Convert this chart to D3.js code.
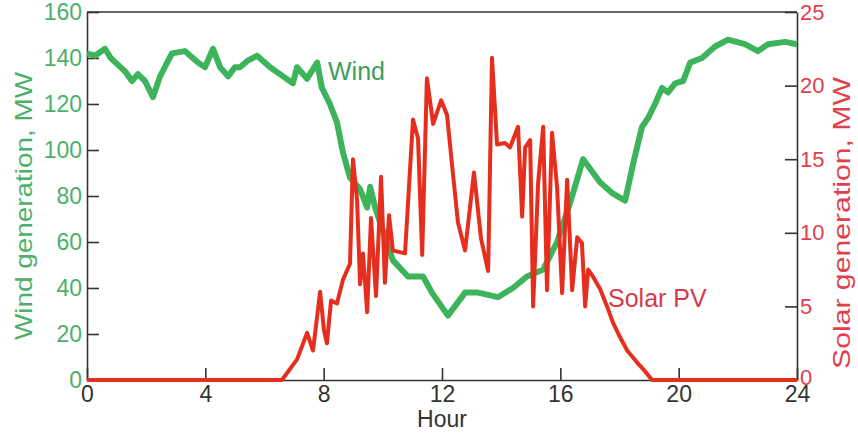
<!DOCTYPE html>
<html>
<head>
<meta charset="utf-8">
<script src="https://cdn.jsdelivr.net/npm/d3@7"></script>
<style>
  body { margin: 0; background: #fff; }
  svg { display: block; font-family: 'Liberation Sans', Arial, sans-serif; }
</style>
</head>
<body>
<svg id="chart" width="858" height="439"></svg>
<script>
// wind generation (MW)
var windHour = [0, 0.27, 0.61, 0.8, 1.05, 1.3, 1.52, 1.72, 1.96, 2.23, 2.47, 2.87, 3.31, 3.75, 3.99, 4.26, 4.5, 4.77, 5.0, 5.17, 5.45, 5.75, 6.19, 6.63, 6.96, 7.1, 7.44, 7.78, 7.94, 8.21, 8.45, 8.65, 8.89, 9.23, 9.47, 9.57, 9.74, 10.34, 10.85, 11.36, 11.66, 12.2, 12.78, 13.22, 13.89, 14.4, 14.87, 15.42, 15.89, 16.33, 16.77, 17.34, 17.78, 18.19, 18.46, 18.76, 18.97, 19.2, 19.44, 19.64, 19.88, 20.15, 20.39, 20.79, 21.23, 21.67, 22.24, 22.68, 23.02, 23.6, 24];
var windMW = [142, 141, 144, 140, 137, 134, 130, 133, 130, 123, 132, 142, 143, 138, 136, 144, 136, 132, 136, 136, 139, 141, 136, 132, 129, 136, 131, 138, 127, 120, 112, 99, 88, 83, 75, 84, 75, 52, 45, 45, 38, 28, 38, 38, 36, 40, 45, 48, 60, 77, 96, 86, 81, 78, 94, 110, 114, 120, 127, 125, 129, 130, 138, 140, 145, 148, 146, 143, 146, 147, 146];

// solar PV generation (MW)
var solarHour = [0, 6.59, 7.1, 7.44, 7.64, 7.88, 8.01, 8.11, 8.25, 8.45, 8.65, 8.89, 8.99, 9.13, 9.23, 9.33, 9.47, 9.6, 9.77, 9.94, 10.07, 10.21, 10.34, 10.75, 11.02, 11.19, 11.33, 11.49, 11.7, 11.97, 12.17, 12.34, 12.54, 12.78, 13.08, 13.32, 13.56, 13.69, 13.86, 14.13, 14.3, 14.57, 14.71, 14.81, 14.98, 15.08, 15.25, 15.42, 15.55, 15.72, 15.89, 16.06, 16.23, 16.4, 16.57, 16.73, 16.84, 16.94, 17.11, 17.34, 17.58, 17.78, 18.02, 18.26, 18.59, 18.86, 19.1, 24];
var solarMW = [0, 0, 1.4, 3.2, 2.0, 6.0, 3.4, 2.5, 5.4, 5.2, 6.8, 7.9, 15.0, 12.2, 6.5, 8.6, 4.6, 11.0, 5.7, 13.8, 6.6, 11.2, 8.8, 8.6, 17.7, 16.4, 8.5, 20.5, 17.4, 19.0, 18.0, 14.6, 10.7, 8.8, 14.1, 9.6, 7.4, 21.9, 16.0, 16.1, 15.8, 17.2, 11.1, 15.8, 16.3, 5.0, 13.4, 17.2, 6.1, 16.8, 13.1, 5.9, 13.6, 6.1, 9.7, 9.3, 5.0, 7.5, 7.0, 6.2, 5.0, 3.9, 2.9, 2.0, 1.2, 0.6, 0, 0];

var hourTicks = [0, 4, 8, 12, 16, 20, 24];
var windTicks = [0, 20, 40, 60, 80, 100, 120, 140, 160];
var solarTicks = [0, 5, 10, 15, 20, 25];

var green = '#3db35b', red = '#e62e1f';
var plotLeft = 87, plotRight = 797, plotTop = 12, plotBottom = 380;

var svg = d3.select('#chart');

var x = d3.scaleLinear().domain([0, 24]).range([plotLeft, plotRight]);
var yWind = d3.scaleLinear().domain([0, 160]).range([plotBottom, plotTop]);
var ySolar = d3.scaleLinear().domain([0, 25]).range([plotBottom, plotTop]);

function styleAxis(g, color, size) {
  g.selectAll('path, line').attr('stroke', '#333').attr('stroke-width', 1.6);
  g.selectAll('text').attr('fill', color).style('font-size', size + 'px');
}

// frame top
svg.append('line')
  .attr('x1', plotLeft).attr('x2', plotRight).attr('y1', plotTop).attr('y2', plotTop)
  .attr('stroke', '#333').attr('stroke-width', 1.6);

var xAxis = svg.append('g')
  .attr('transform', 'translate(0,' + plotBottom + ')')
  .call(d3.axisBottom(x).tickValues(hourTicks).tickSize(-12).tickSizeOuter(0).tickPadding(6));
styleAxis(xAxis, '#333', 23);

var lAxis = svg.append('g')
  .attr('transform', 'translate(' + plotLeft + ',0)')
  .call(d3.axisLeft(yWind).tickValues(windTicks).tickSize(-12).tickSizeOuter(0).tickPadding(5));
styleAxis(lAxis, '#4caf6a', 23);

var rAxis = svg.append('g')
  .attr('transform', 'translate(' + plotRight + ',0)')
  .call(d3.axisRight(ySolar).tickValues(solarTicks).tickSize(-12).tickSizeOuter(0).tickPadding(3));
styleAxis(rAxis, '#e0404a', 22);
// lift the right "0" a touch so it clears the "24" below it
rAxis.selectAll('.tick text').filter(function (d) { return d === 0 }).attr('dy', '0.2em');

// lines
var windLine = d3.line()
  .x(function (d, i) { return x(windHour[i]) })
  .y(function (d) { return yWind(d) });

var solarLine = d3.line()
  .x(function (d, i) { return x(solarHour[i]) })
  .y(function (d) { return ySolar(d) });

svg.append('path')
  .attr('d', windLine(windMW))
  .attr('fill', 'none').attr('stroke', green)
  .attr('stroke-width', 6).attr('stroke-linejoin', 'round');

svg.append('path')
  .attr('d', solarLine(solarMW))
  .attr('fill', 'none').attr('stroke', red)
  .attr('stroke-width', 4).attr('stroke-linejoin', 'round');

// titles
svg.append('text')
  .attr('transform', 'translate(32,206)rotate(-90)')
  .attr('text-anchor', 'middle')
  .attr('fill', '#4caf6a')
  .style('font-size', '24px')
  .attr('textLength', 268).attr('lengthAdjust', 'spacingAndGlyphs')
  .text('Wind generation, MW');

svg.append('text')
  .attr('transform', 'translate(850,223)rotate(-90)')
  .attr('text-anchor', 'middle')
  .attr('fill', '#e0404a')
  .style('font-size', '24px')
  .attr('textLength', 292).attr('lengthAdjust', 'spacingAndGlyphs')
  .text('Solar generation, MW');

svg.append('text')
  .attr('x', x(12)).attr('y', 427)
  .attr('text-anchor', 'middle')
  .attr('fill', '#333')
  .style('font-size', '23px')
  .text('Hour');

// series labels
svg.append('text')
  .attr('x', 328).attr('y', 80)
  .attr('fill', '#3e9e5e')
  .style('font-size', '25px')
  .text('Wind');

svg.append('text')
  .attr('x', 608).attr('y', 307)
  .attr('fill', '#d33a4a')
  .style('font-size', '25px')
  .text('Solar PV');
</script>
</body>
</html>
